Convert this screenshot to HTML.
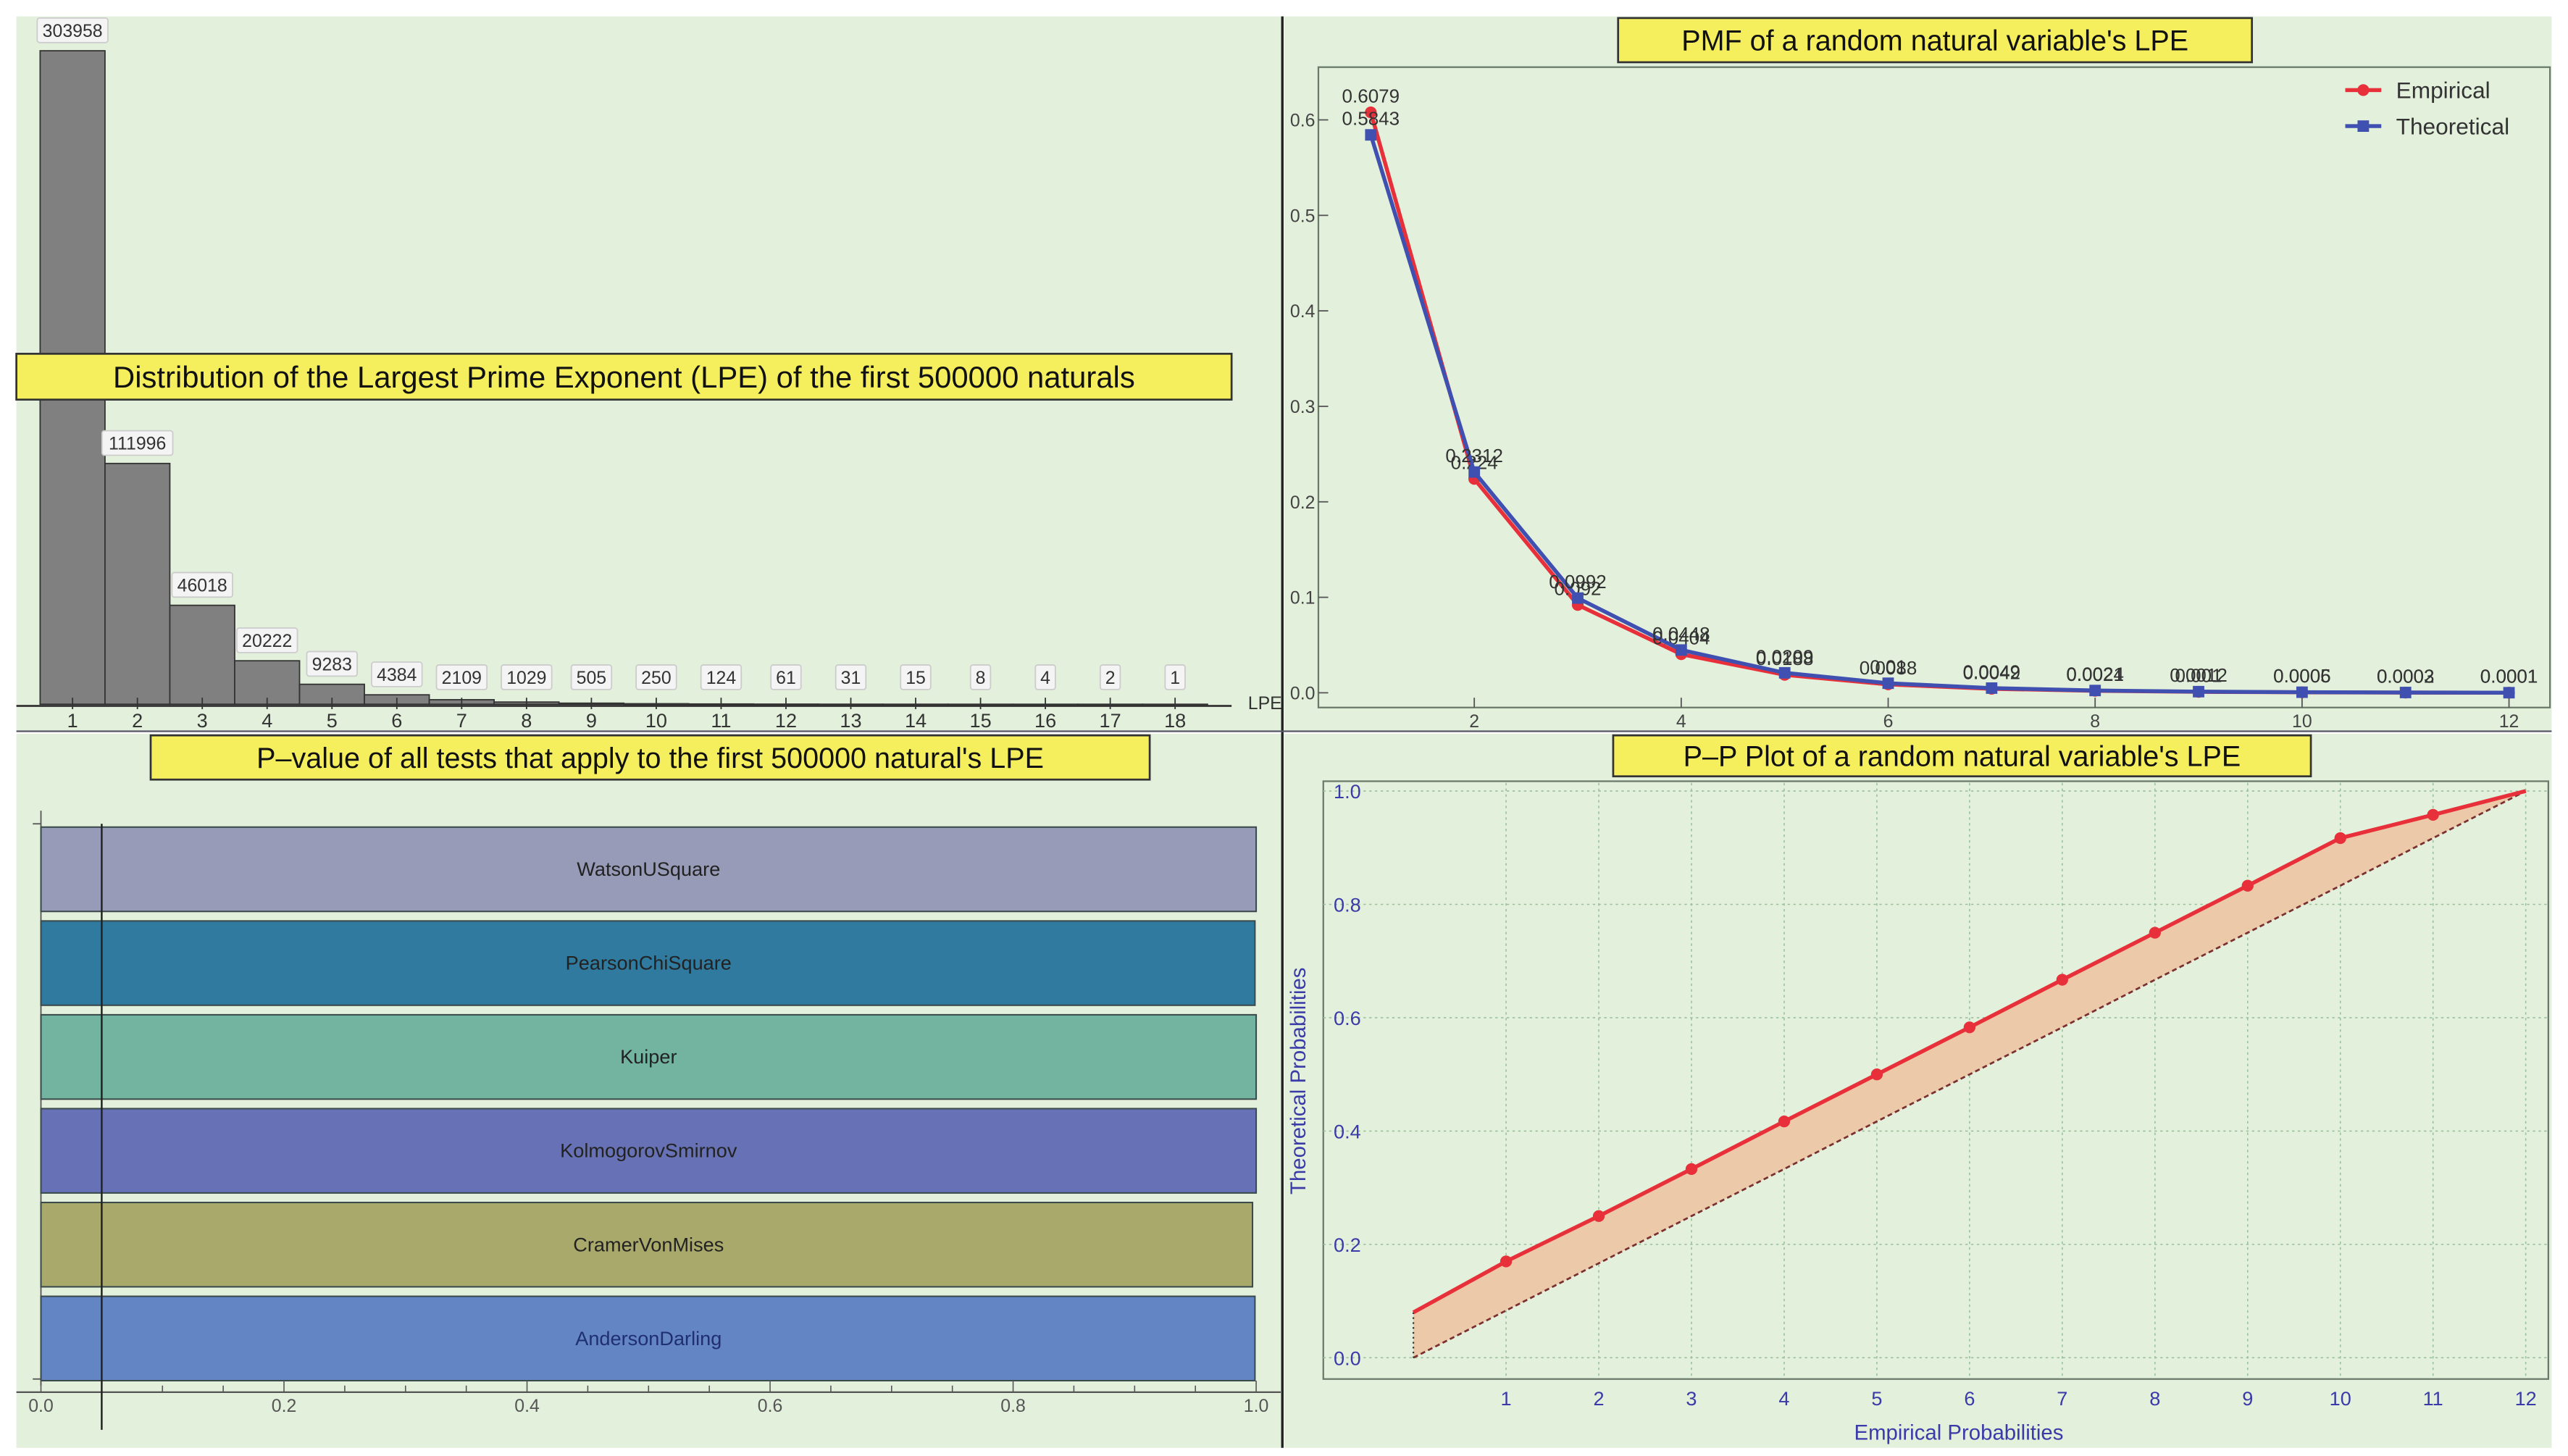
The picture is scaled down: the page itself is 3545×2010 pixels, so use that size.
<!DOCTYPE html>
<html><head><meta charset="utf-8"><style>
html,body{margin:0;padding:0;background:#fff;}
svg{display:block;font-family:"Liberation Sans","DejaVu Sans",sans-serif;}
</style></head><body>
<svg id="root" width="3545" height="2010" viewBox="0 0 1568 889" preserveAspectRatio="none" xmlns="http://www.w3.org/2000/svg">
<rect x="0" y="0" width="1568" height="889" fill="#ffffff"/>
<rect x="10" y="10" width="773" height="436" fill="#e3f0dc"/>
<rect x="784" y="10" width="774" height="436" fill="#e3f0dc"/>
<rect x="10" y="448" width="773" height="436" fill="#e3f0dc"/>
<rect x="784" y="448" width="774" height="436" fill="#e3f0dc"/>
<line x1="783" y1="10" x2="783" y2="884" stroke="#222" stroke-width="1.5"/>
<line x1="10" y1="446.5" x2="1558" y2="446.5" stroke="#556" stroke-width="1"/>
<g id="hist"></g><g id="pmf"></g><g id="pval"></g><g id="pp"></g>
</svg>
<script>
const NS="http://www.w3.org/2000/svg";
function mk(p,tag,a,txt){const e=document.createElementNS(NS,tag);for(const k in a)e.setAttribute(k,a[k]);if(txt!==undefined)e.textContent=txt;p.appendChild(e);return e;}

// ---------- Histogram data ----------
const lpeCategories=[1,2,3,4,5,6,7,8,9,10,11,12,13,14,15,16,17,18];
const lpeCounts=[303958,111996,46018,20222,9283,4384,2109,1029,505,250,124,61,31,15,8,4,2,1];

// ---------- PMF data ----------
const pmfX=[1,2,3,4,5,6,7,8,9,10,11,12];
const pmfEmpirical=[0.6079,0.224,0.092,0.0404,0.0188,0.0088,0.0042,0.0021,0.001,0.0005,0.0002,0.0001];
const pmfTheoretical=[0.5843,0.2312,0.0992,0.0448,0.0209,0.01,0.0049,0.0024,0.0012,0.0006,0.0003,0.0001];
const pmfYTicks=[0,0.1,0.2,0.3,0.4,0.5,0.6];
const pmfXTicks=[2,4,6,8,10,12];

// ---------- P-value data ----------
const testNames=["WatsonUSquare","PearsonChiSquare","Kuiper","KolmogorovSmirnov","CramerVonMises","AndersonDarling"];
const testPValues=[1.0,0.999,1.0,1.0,0.997,0.999];
const pvalXTicks=[0,0.2,0.4,0.6,0.8,1.0];

// ---------- P-P data ----------
const ppX=[0,1,2,3,4,5,6,7,8,9,10,11,12];
const ppEmpirical=[0.08,0.17,0.25,0.333,0.417,0.5,0.583,0.667,0.75,0.833,0.917,0.958,1.0];
const ppTheoretical=[0,0.0833,0.1667,0.25,0.333,0.417,0.5,0.583,0.667,0.75,0.833,0.917,1.0];
const ppYTicks=[0,0.2,0.4,0.6,0.8,1.0];
const ppXTicks=[1,2,3,4,5,6,7,8,9,10,11,12];

function titleBox(g,x,y,w,h,t,fs,name){
  const r=mk(g,'rect',{x:x,y:y,width:w,height:h,fill:'#f5ef5e',stroke:'#333','stroke-width':1.2});
  
  const tx=mk(g,'text',{x:x+w/2,y:y+h/2+fs*0.36,'text-anchor':'middle','font-size':fs,fill:'#111'},t);
  
}

// ===== Histogram =====
(function(){
  const g=document.getElementById('hist');
  const x0=24.5,bw=39.6,base=430,yScale=399/303958;
  const X=i=>x0+i*bw, Y=v=>base-v*yScale;
  lpeCounts.forEach((v,i)=>{
    const r=mk(g,'rect',{x:X(i),y:Y(v),width:bw,height:Math.max(base-Y(v),0.6),fill:'#808080',stroke:'#333','stroke-width':0.8});
    
    const s=String(v),w=s.length*6.2+6,cx=X(i)+bw/2;
    const ly=Math.min(Y(v)-20,base-24);
    const lb=mk(g,'rect',{x:cx-w/2,y:ly,width:w,height:15,fill:'#f4f4f4',stroke:'#ccc','stroke-width':0.8,rx:1.5});
    
    const t=mk(g,'text',{x:cx,y:ly+11.5,'text-anchor':'middle','font-size':11,fill:'#333'},s);
    
    mk(g,'line',{x1:cx,y1:base-4,x2:cx,y2:base+3,stroke:'#333','stroke-width':0.8});
    const tl=mk(g,'text',{x:cx,y:base+14,'text-anchor':'middle','font-size':12,fill:'#333'},lpeCategories[i]);
    
  });
  const ax=mk(g,'line',{x1:10,y1:base+1,x2:752,y2:base+1,stroke:'#333','stroke-width':1.2});
  
  const at=mk(g,'text',{x:762,y:base+3,'font-size':11,fill:'#333'},'LPE');
  
  titleBox(g,10,216,742,28,'Distribution of the Largest Prime Exponent (LPE) of the first 500000 naturals',18.5,'histogram-title');
})();

// ===== PMF =====
(function(){
  const g=document.getElementById('pmf');
  const X=v=>837+(v-1)*63.18, Y=v=>423-v*583;
  const fr=mk(g,'rect',{x:805,y:41,width:752,height:391,fill:'none',stroke:'#6a7a6a','stroke-width':1});
  
  pmfYTicks.forEach(t=>{
    mk(g,'line',{x1:805,y1:Y(t),x2:811,y2:Y(t),stroke:'#555','stroke-width':0.8});
    const e=mk(g,'text',{x:803,y:Y(t)+4,'text-anchor':'end','font-size':11,fill:'#444'},t.toFixed(1));
    
  });
  pmfXTicks.forEach(t=>{
    mk(g,'line',{x1:X(t),y1:432,x2:X(t),y2:426,stroke:'#555','stroke-width':0.8});
    const e=mk(g,'text',{x:X(t),y:444,'text-anchor':'middle','font-size':11,fill:'#444'},t);
    
  });
  function series(vals,col,shape,name,dy){
    const pts=vals.map((v,i)=>X(pmfX[i])+','+Y(v)).join(' ');
    const l=mk(g,'polyline',{points:pts,fill:'none',stroke:col,'stroke-width':2.4});
    
    vals.forEach((v,i)=>{
      const cx=X(pmfX[i]),cy=Y(v);
      const m=shape==='c'?mk(g,'circle',{cx:cx,cy:cy,r:3.6,fill:col}):mk(g,'rect',{x:cx-3.5,y:cy-3.5,width:7,height:7,fill:col});
      
      const t=mk(g,'text',{x:cx,y:cy+dy,'text-anchor':'middle','font-size':11.5,fill:'#333'},String(v));
      
    });
  }
  series(pmfEmpirical,'#e8303a','c','empirical',-6);
  series(pmfTheoretical,'#4050b0','s','theoretical',-6);
  mk(g,'line',{x1:1432,y1:55,x2:1454,y2:55,stroke:'#e8303a','stroke-width':2.4});
  mk(g,'circle',{cx:1443,cy:55,r:3.6,fill:'#e8303a'});
  const t1=mk(g,'text',{x:1463,y:60,'font-size':14,fill:'#333'},'Empirical');
  
  mk(g,'line',{x1:1432,y1:77,x2:1454,y2:77,stroke:'#4050b0','stroke-width':2.4});
  mk(g,'rect',{x:1439.5,y:73.5,width:7,height:7,fill:'#4050b0'});
  const t2=mk(g,'text',{x:1463,y:82,'font-size':14,fill:'#333'},'Theoretical');
  
  titleBox(g,988,11,387,27,"PMF of a random natural variable's LPE",17.5,'pmf-title');
})();

// ===== P-values =====
(function(){
  const g=document.getElementById('pval');
  const X=v=>25+v*742;
  const cols=['#979bb8','#2f7a9e','#72b4a0','#6672b5','#a9a96b','#6385c4'];
  const top=505,step=57.3,bh=51.5;
  mk(g,'line',{x1:25,y1:495,x2:25,y2:846,stroke:'#555','stroke-width':0.8});
  mk(g,'line',{x1:20,y1:503,x2:25,y2:503,stroke:'#555','stroke-width':0.8});
  mk(g,'line',{x1:20,y1:842,x2:25,y2:842,stroke:'#555','stroke-width':0.8});
  testPValues.forEach((v,i)=>{
    const y=top+i*step;
    const r=mk(g,'rect',{x:X(0),y:y,width:X(v)-X(0),height:bh,fill:cols[i],stroke:'#3a4a4a','stroke-width':0.9});
    
    const t=mk(g,'text',{x:X(0.5),y:y+bh/2+4,'text-anchor':'middle','font-size':12,fill:i===5?'#1f2f6f':'#222'},testNames[i]);
    
  });
  const ax=mk(g,'line',{x1:10,y1:850,x2:782,y2:850,stroke:'#555','stroke-width':1});
  
  for(let k=0;k<=20;k++){const v=k/20;mk(g,'line',{x1:X(v),y1:850,x2:X(v),y2:k%4===0?843:846,stroke:'#555','stroke-width':0.7});}
  pvalXTicks.forEach(t=>{
    const e=mk(g,'text',{x:X(t),y:862,'text-anchor':'middle','font-size':11,fill:'#555'},t.toFixed(1));
    
  });
  const sl=mk(g,'line',{x1:X(0.05),y1:503,x2:X(0.05),y2:873,stroke:'#222','stroke-width':1.1});
  
  titleBox(g,92,449,610,27,"P\u2013value of all tests that apply to the first 500000 natural's LPE",17.5,'pvalue-title');
})();

// ===== P-P =====
(function(){
  const g=document.getElementById('pp');
  const X=v=>863+v*56.6, Y=v=>829-v*346;
  const fr=mk(g,'rect',{x:808,y:477,width:748,height:365,fill:'none',stroke:'#6a7a6a','stroke-width':1});
  
  ppXTicks.forEach(t=>{
    mk(g,'line',{x1:X(t),y1:478,x2:X(t),y2:842,stroke:'#9cc09c','stroke-width':0.7,'stroke-dasharray':'1.5,2'});
    const e=mk(g,'text',{x:X(t),y:858,'text-anchor':'middle','font-size':12,fill:'#3a3aa8'},t);
    
  });
  ppYTicks.forEach(t=>{
    mk(g,'line',{x1:808,y1:Y(t),x2:1556,y2:Y(t),stroke:'#9cc09c','stroke-width':0.7,'stroke-dasharray':'1.5,2'});
    const e=mk(g,'text',{x:831,y:Y(t)+4.5,'text-anchor':'end','font-size':12,fill:'#3a3aa8'},t.toFixed(1));
    
  });
  const top=ppEmpirical.map((v,i)=>X(ppX[i])+','+Y(v));
  const bot=ppTheoretical.map((v,i)=>X(ppX[i])+','+Y(v)).reverse();
  const f=mk(g,'polygon',{points:top.concat(bot).join(' '),fill:'#ebc9a9',stroke:'none'});
  
  const d=mk(g,'polyline',{points:ppTheoretical.map((v,i)=>X(ppX[i])+','+Y(v)).join(' '),fill:'none',stroke:'#7a3030','stroke-width':1.2,'stroke-dasharray':'3,2'});
  
  mk(g,'line',{x1:X(0),y1:Y(ppEmpirical[0]),x2:X(0),y2:Y(ppTheoretical[0]),stroke:'#333','stroke-width':1,'stroke-dasharray':'1,2'});
  const l=mk(g,'polyline',{points:top.join(' '),fill:'none',stroke:'#e8303a','stroke-width':2.4});
  
  ppEmpirical.forEach((v,i)=>{
    if(i===0||i===ppEmpirical.length-1)return;
    const c=mk(g,'circle',{cx:X(ppX[i]),cy:Y(v),r:3.6,fill:'#e8303a'});
    
  });
  const yl=mk(g,'text',{x:797,y:660,'text-anchor':'middle','font-size':13,fill:'#3a3aa8',transform:'rotate(-90 797 660)'},'Theoretical Probabilities');
  
  const xl=mk(g,'text',{x:1196,y:879,'text-anchor':'middle','font-size':13,fill:'#3a3aa8'},'Empirical Probabilities');
  
  titleBox(g,985,449,426,25,"P\u2013P Plot of a random natural variable's LPE",17.5,'pp-title');
})();
</script>
</body></html>
